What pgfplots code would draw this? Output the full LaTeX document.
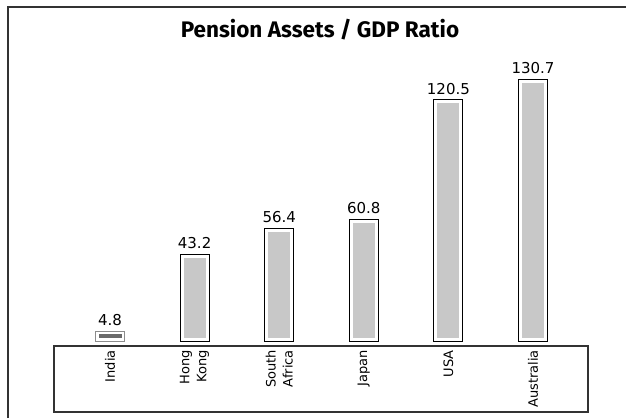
\documentclass[border=0pt]{standalone}
\usepackage{pgfplots}
\pgfplotsset{compat=1.18}
\usepackage{pgfplotstable}
\usepackage{fontspec}
\setmainfont{DejaVu Sans}
\newfontfamily\titlefont{Fira Sans}
\definecolor{barfill}{HTML}{C8C8C8}
\definecolor{indiafill}{HTML}{6A6A6A}
\pgfplotstableread{
x v lab
1 43.2 43.2
2 56.4 56.4
3 60.8 60.8
4 120.5 120.5
5 130.7 130.7
}\bars
\begin{document}
\begin{tikzpicture}
\useasboundingbox (0,0) rectangle (626pt,418pt);
\draw[black!80, line width=1.5pt] (8pt,0) -- (8pt,411pt) -- (626pt,411pt);
\node[anchor=base, font=\titlefont\bfseries\fontsize{22.5}{26}\selectfont] at (320pt,380pt) {Pension Assets / GDP Ratio};
\begin{axis}[
  at={(54pt,72pt)}, anchor=south west,
  scale only axis, width=534pt, height=286pt,
  xmin=-0.662, xmax=5.65, ymin=-2.5, ymax=140.5,
  ybar, clip=false,
  axis line style={draw=none}, tick style={draw=none}, major tick length=0pt,
  ytick=\empty,
  xtick={0,1,2,3,4,5},
  xticklabels={India, Hong\\Kong, South\\Africa, Japan, USA, Australia},
  xticklabel style={rotate=90, anchor=east, align=right, inner sep=0pt,
    font=\fontsize{13}{17}\selectfont},
  xticklabel shift=4pt,
  point meta=explicit symbolic,
  every node near coord/.append style={anchor=south, inner sep=0pt, yshift=5pt,
    font=\fontsize{15}{17}\selectfont, text=black},
]
% inner fills
\addplot[bar shift=0pt, bar width=29pt, fill=barfill, draw=white, line width=7pt]
  table[x=x, y=v, meta=lab] {\bars};
\addplot[bar shift=0pt, bar width=29pt, fill=indiafill, draw=white, line width=6pt]
  coordinates {(0,4.8) [4.8]};
% outlines
\addplot[bar shift=0pt, bar width=29pt, fill=none, draw=black, line width=1pt, nodes near coords]
  table[x=x, y=v, meta=lab] {\bars};
\addplot[bar shift=0pt, bar width=29pt, fill=none, draw=black!45, line width=1pt, nodes near coords]
  coordinates {(0,4.8) [4.8]};
\draw[black!80, line width=1.2pt] (rel axis cs:0,0) rectangle ([yshift=-66pt]rel axis cs:1,0);
\end{axis}
\end{tikzpicture}
\end{document}
